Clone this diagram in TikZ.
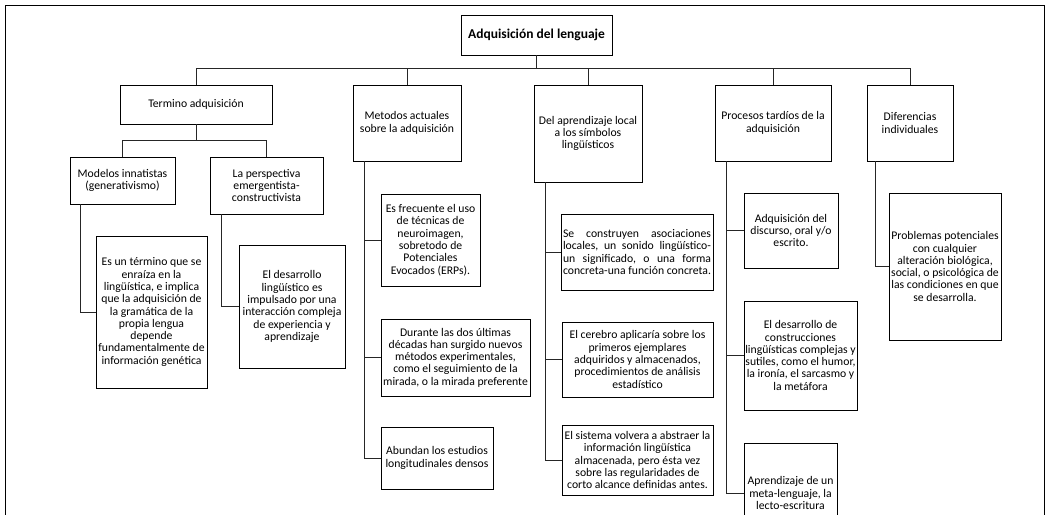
\documentclass[tikz,border=0pt]{standalone}
\usepackage{fontspec}
\setmainfont{Carlito}
\newcommand\bxfont{\fontsize{11.7}{12.3}\selectfont}
\newcommand\jline[1]{\hbox to 148pt{#1}}
\begin{document}
\begin{tikzpicture}[x=1pt,y=-1pt,
  box/.style={draw=black, line width=0.9pt, inner sep=0pt, align=center, font=\bxfont},
  conn/.style={draw=black!85, line width=1pt}]
\clip (0,0) rectangle (1051,514);
\fill[white] (0,0) rectangle (1051,514);
% frame
\draw[line width=0.9pt] (5,520) -- (5,5) -- (1044,5) -- (1044,520);
% root
\node[box, minimum width=151pt, minimum height=40pt, font=\fontsize{13.5}{15}\selectfont\bfseries] (root) at (536.5,35) {Adquisición del lenguaje};
% level 1
\node[box, minimum width=152pt, minimum height=39pt] (t1) at (196,104.5) {Termino adquisición};
\node[box, minimum width=108pt, minimum height=76pt] (t2) at (407,123) {Metodos actuales\\sobre la adquisición};
\node[box, minimum width=108pt, minimum height=97pt] (t3) at (588,133.5) {Del aprendizaje local\\a los símbolos\\lingüísticos};
\node[box, minimum width=116pt, minimum height=76pt] (t4) at (773,123) {Procesos tardíos de la\\adquisición};
\node[box, minimum width=86pt, minimum height=76pt] (t5) at (910,123) {Diferencias\\individuales};
% termino children
\node[box, minimum width=105pt, minimum height=47pt] (m1) at (122.5,180.5) {Modelos innatistas\\(generativismo)};
\node[box, minimum width=113pt, minimum height=57pt] (m2) at (266.5,185.5) {La perspectiva\\emergentista-\\constructivista};
\node[box, minimum width=111pt, minimum height=152pt] (a1) at (151.5,312) {Es un término que se\\enraíza en la\\lingüística, e implica\\que la adquisición de\\la gramática de la\\propia lengua\\depende\\fundamentalmente de\\información genética};
\node[box, minimum width=106pt, minimum height=123pt] (a2) at (292,306.5) {El desarrollo\\lingüístico es\\impulsado por una\\interacción compleja\\de experiencia y\\aprendizaje};
% metodos children
\node[box, minimum width=99pt, minimum height=92pt] (b1) at (430.5,240) {Es frecuente el uso\\de técnicas de\\neuroimagen,\\sobretodo de\\Potenciales\\Evocados (ERPs).};
\node[box, minimum width=149pt, minimum height=77pt] (b2) at (455.5,357.5) {Durante las dos últimas\\décadas han surgido nuevos\\métodos experimentales,\\como el seguimiento de la\\mirada, o la mirada preferente};
\node[box, minimum width=112pt, minimum height=62pt] (b3) at (437,458) {Abundan los estudios\\longitudinales densos};
% del aprendizaje children
\node[box, minimum width=152pt, minimum height=76pt] (c1) at (637,252) {\jline{Se\hfill construyen\hfill asociaciones}\\\jline{locales,\hfill un\hfill sonido\hfill lingüístico-}\\\jline{un\hfill significado,\hfill o\hfill una\hfill forma}\\\jline{concreta-una\hfill función\hfill concreta.}};
\node[box, minimum width=151pt, minimum height=75pt] (c2) at (637.5,359.5) {El cerebro aplicaría sobre los\\primeros ejemplares\\adquiridos y almacenados,\\procedimientos de análisis\\estadístico};
\node[box, minimum width=151pt, minimum height=70pt] (c3) at (637.5,460) {El sistema volvera a abstraer la\\información lingüística\\almacenada, pero ésta vez\\sobre las regularidades de\\corto alcance definidas antes.};
% procesos children
\node[box, minimum width=94pt, minimum height=75pt] (d1) at (791,230.5) {Adquisición del\\discurso, oral y/o\\escrito.};
\node[box, minimum width=113pt, minimum height=109pt] (d2) at (800.5,355.5) {El desarrollo de\\construcciones\\lingüísticas complejas y\\sutiles, como el humor,\\la ironía, el sarcasmo y\\la metáfora};
\node[box, minimum width=93pt, minimum height=100pt] (d3) at (790.5,493) {Aprendizaje de un\\meta-lenguaje, la\\lecto-escritura};
% diferencias child
\node[box, minimum width=112pt, minimum height=147pt] (e1) at (945,266.5) {Problemas potenciales\\con cualquier\\alteración biológica,\\social, o psicológica de\\las condiciones en que\\se desarrolla.};
% connectors root
\foreach \t in {t1,t2,t3,t4,t5}
  \draw[conn] (root.south) -- ++(0,13) -| (\t.north);
% termino
\foreach \t in {m1,m2}
  \draw[conn] (t1.south) -- ++(0,16) -| (\t.north);
\draw[conn] ([xshift=11pt]m1.south west) |- (a1.west);
\draw[conn] ([xshift=12pt]m2.south west) |- (a2.west);
\foreach \t in {b1,b2,b3}
  \draw[conn] ([xshift=12pt]t2.south west) |- (\t.west);
\foreach \t in {c1,c2,c3}
  \draw[conn] ([xshift=12pt]t3.south west) |- (\t.west);
\foreach \t in {d1,d2,d3}
  \draw[conn] ([xshift=12pt]t4.south west) |- (\t.west);
\draw[conn] ([xshift=9pt]t5.south west) |- (e1.west);
\end{tikzpicture}
\end{document}
